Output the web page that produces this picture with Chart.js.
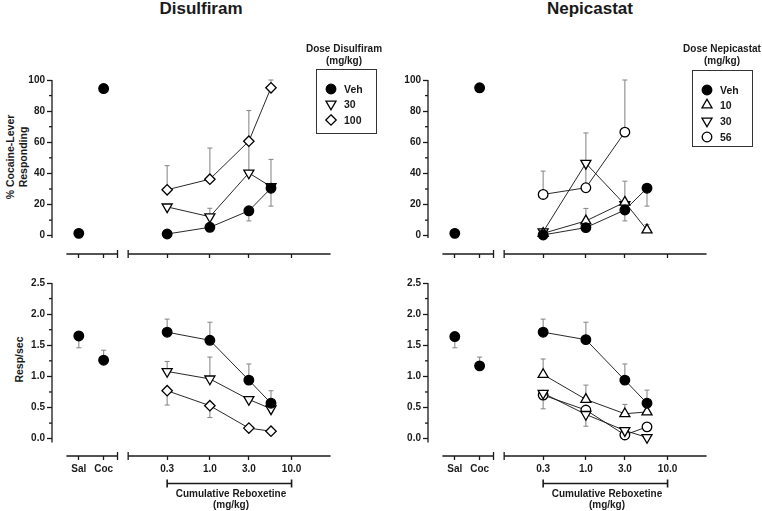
<!DOCTYPE html>
<html>
<head>
<meta charset="utf-8">
<script src="https://cdn.jsdelivr.net/npm/chart.js@4.4.1/dist/chart.umd.min.js"></script>
<style>
  body { margin: 0; width: 762px; height: 511px; position: relative; overflow: hidden; background: #fff;
         font-family: 'Liberation Sans', Arial, sans-serif; font-weight: bold; color: #1a1a1a; }
  canvas { position: absolute; }
  .t { position: absolute; text-align: center; white-space: nowrap; }
  .title { font-size: 17px; line-height: 17px; top: 0; }
  .ytitle { font-size: 10.5px; line-height: 13px; transform: rotate(-90deg); }
  .lg-title { font-size: 10px; line-height: 12px; }
  .lg-box { position: absolute; border: 1px solid #333; box-sizing: border-box; padding-top: 11px; }
  .lg-row { height: 15.6px; display: flex; align-items: center; font-size: 10.5px; }
  .lg-row svg { margin-left: 7px; margin-right: 6px; }
  .brk { font-size: 10px; line-height: 11px; }
</style>
</head>
<body>
<div class="t title" style="left:141px;width:120px">Disulfiram</div>
<div class="t title" style="left:530px;width:120px">Nepicastat</div>
<div class="t ytitle" style="left:-43px;top:144px;width:120px">% Cocaine-Lever<br>Responding</div>
<div class="t ytitle" style="left:-21px;top:353px;width:80px">Resp/sec</div>

<canvas id="dp" width="345" height="206" style="left:0;top:60px"></canvas>
<canvas id="np" width="345" height="206" style="left:376px;top:60px"></canvas>
<canvas id="dr" width="345" height="248" style="left:0;top:263px"></canvas>
<canvas id="nr" width="345" height="248" style="left:376px;top:263px"></canvas>

<div class="t lg-title" style="left:296px;top:43px;width:96px">Dose Disulfiram<br>(mg/kg)</div>
<div class="lg-box" id="lg-dis" style="left:316px;top:69px;width:61px;height:65px"></div>
<div class="t lg-title" style="left:674px;top:43px;width:96px">Dose Nepicastat<br>(mg/kg)</div>
<div class="lg-box" id="lg-nep" style="left:692px;top:70px;width:61px;height:77px"></div>

<div class="t brk" style="left:171px;top:488px;width:120px">Cumulative Reboxetine<br>(mg/kg)</div>
<div class="t brk" style="left:547px;top:488px;width:120px">Cumulative Reboxetine<br>(mg/kg)</div>

<script>
// ---- data ----
const ctlLabels = ['Sal', 'Coc'];
const ctlX = [1, 2];
const doses = [0.3, 1, 3, 5.6];
const doseTicks = [0.3, 1, 3, 10];
const pctTicks = [0, 20, 40, 60, 80, 100];
const rateTicks = [0, 0.5, 1, 1.5, 2, 2.5];
const disLegend = ['Veh', '30', '100'];
const nepLegend = ['Veh', '10', '30', '56'];

// Disulfiram, % cocaine-lever responding
const disPctCtl = [1.5, 94.5];
const disPctVeh = [1.1, 5.4, 16, 30.5];
const disPctVehDn = [null, null, 6.5, 11.5];
const disPct30 = [18.5, 12.2, 40.3, 31.5];
const disPct30Up = [null, 5.4, null, 17.5];
const disPct100 = [29.5, 36.3, 60.7, 95];
const disPct100Up = [15.5, 20, 19.7, 5];
const disPct100Dn = [null, null, 20, null];

// Nepicastat, % cocaine-lever responding
const nepPctCtl = [1.5, 95];
const nepPctVeh = [0.5, 5.2, 16.5, 30.5];
const nepPctVehDn = [null, null, 7, 11.5];
const nepPct10 = [1.5, 9.5, 21.5, 3.7];
const nepPct10Up = [null, 8, 13.5, 3.5];
const nepPct30 = [2.5, 46.5, 20, null];
const nepPct30Up = [null, 19.5, null, null];
const nepPct56 = [26.5, 30.8, 66.5, null];
const nepPct56Up = [15, 16, 33.5, null];

// Disulfiram, resp/sec
const disRateCtl = [1.65, 1.26];
const disRateCtlUp = [null, 0.16];
const disRateCtlDn = [0.19, null];
const disRateVeh = [1.71, 1.58, 0.94, 0.57];
const disRateVehUp = [0.21, 0.29, 0.26, 0.2];
const disRate30 = [1.08, 0.96, 0.63, 0.48];
const disRate30Up = [0.16, 0.35, null, null];
const disRate100 = [0.77, 0.53, 0.17, 0.12];
const disRate100Dn = [0.23, 0.19, null, null];

// Nepicastat, resp/sec
const nepRateCtl = [1.64, 1.17];
const nepRateCtlUp = [null, 0.14];
const nepRateCtlDn = [0.18, null];
const nepRateVeh = [1.71, 1.59, 0.94, 0.57];
const nepRateVehUp = [0.21, 0.28, 0.26, 0.21];
const nepRate10 = [1.03, 0.63, 0.4, 0.43];
const nepRate10Up = [0.25, 0.23, 0.15, null];
const nepRate30 = [0.73, 0.39, 0.13, 0.02];
const nepRate30Dn = [null, 0.19, null, null];
const nepRate56 = [0.7, 0.46, 0.06, 0.19];
const nepRate56Dn = [0.22, null, null, null];

// ---- styling ----
const FONT = "'Liberation Sans', Arial, sans-serif";
const INK = '#1a1a1a', ERR = '#8c8c8c';
const MARK = {
  veh:  { pointStyle: 'circle',   radius: 4.8, fill: '#000', rot: 0 },
  up:   { pointStyle: 'triangle', radius: 5.8, fill: '#fff', rot: 0 },
  down: { pointStyle: 'triangle', radius: 5.8, fill: '#fff', rot: 180 },
  dia:  { pointStyle: 'rectRot',  radius: 5.2, fill: '#fff', rot: 0 },
  open: { pointStyle: 'circle',   radius: 4.8, fill: '#fff', rot: 0 },
};
const ctlSpan = [0.5, 2.56];   // extent of the Sal/Coc axis segment
const doseSpan = [0.1, 30];    // extent of the reboxetine axis segment

function series(xs, ys, m, up, dn, ctl) {
  return {
    data: xs.map((x, i) => ({ x, y: ys[i] })),
    xAxisID: ctl ? 'xc' : 'xl', showLine: !ctl, clip: false,
    borderColor: '#111', borderWidth: 0.9,
    pointStyle: m.pointStyle, pointRadius: m.radius, pointRotation: m.rot,
    pointBackgroundColor: m.fill, pointBorderColor: '#000', pointBorderWidth: 1.3,
    errUp: up || [], errDn: dn || [],
  };
}

const seg = (ctx, x1, y1, x2, y2) => { ctx.beginPath(); ctx.moveTo(x1, y1); ctx.lineTo(x2, y2); ctx.stroke(); };

// prism-style detached axes, minor ticks, bracket and error bars
const prismAxes = {
  id: 'prismAxes',
  beforeDatasetsDraw(chart, args, o) {
    const { ctx, chartArea: a, scales: { y, xc, xl } } = chart;
    ctx.save();
    ctx.strokeStyle = INK; ctx.lineWidth = 1.3;
    seg(ctx, a.left, y.getPixelForValue(y.max), a.left, y.getPixelForValue(o.yFloor));
    const t = y.ticks;
    for (let i = 0; i < t.length - 1; i++) {
      const p = y.getPixelForValue((t[i].value + t[i + 1].value) / 2);
      seg(ctx, a.left - 3, p, a.left, p);
    }
    const b = a.bottom;
    const c0 = xc.getPixelForValue(ctlSpan[0]), c1 = xc.getPixelForValue(ctlSpan[1]);
    seg(ctx, c0, b, c1, b); seg(ctx, c1, b - 4, c1, b + 4);
    const d0 = xl.getPixelForValue(doseSpan[0]), d1 = xl.getPixelForValue(doseSpan[1]);
    seg(ctx, d0, b, d1, b); seg(ctx, d0, b - 4, d0, b + 4);
    if (o.bracket) {
      const by = b + 27.5, k0 = xl.getPixelForValue(doseTicks[0]), k1 = xl.getPixelForValue(doseTicks[doseTicks.length - 1]);
      ctx.lineWidth = 1.6;
      seg(ctx, k0, by, k1, by); seg(ctx, k0, by - 4, k0, by + 4); seg(ctx, k1, by - 4, k1, by + 4);
    }
    ctx.strokeStyle = ERR; ctx.lineWidth = 1.1;
    chart.data.datasets.forEach((ds, di) => {
      chart.getDatasetMeta(di).data.forEach((pt, i) => {
        const v = ds.data[i].y; if (v == null) return;
        [ds.errUp[i], ds.errDn[i] == null ? null : -ds.errDn[i]].forEach((e) => {
          if (e == null) return;
          const p = y.getPixelForValue(v + e);
          seg(ctx, pt.x, pt.y, pt.x, p); seg(ctx, pt.x - 2.5, p, pt.x + 2.5, p);
        });
      });
    });
    ctx.restore();
  },
};

function panel(id, o) {
  const font = { family: FONT, size: 10, weight: 'bold' };
  const grid = (tl) => ({ drawOnChartArea: false, tickLength: tl, tickColor: INK, tickWidth: 1.3 });
  const xH = o.labels ? 25 : 10;
  new Chart(document.getElementById(id), {
    type: 'line',
    data: { datasets: o.datasets },
    options: {
      responsive: false, animation: false, events: [],
      layout: { padding: { left: 12, right: 5, top: 20, bottom: o.labels ? 30 : 2 } },
      plugins: { legend: { display: false }, tooltip: { enabled: false }, prismAxes: { yFloor: o.yFloor, bracket: o.labels } },
      scales: {
        y: { type: 'linear', position: 'left', min: o.yMin, max: o.yMax,
          afterBuildTicks: (s) => { s.ticks = o.yTicks.map((v) => ({ value: v })); },
          afterFit: (s) => { s.width = 40; },
          border: { display: false }, grid: grid(5),
          ticks: { color: INK, font, padding: 2, callback: o.yFmt } },
        xc: { type: 'linear', position: 'bottom', stack: 'x', stackWeight: 71, min: -0.08, max: 2.76,
          afterBuildTicks: (s) => { s.ticks = ctlX.map((v) => ({ value: v })); },
          afterFit: (s) => { s.height = xH; },
          border: { display: false }, grid: grid(4),
          ticks: { display: o.labels, autoSkip: false, maxRotation: 0, color: INK, font, padding: 3,
            callback: (v) => ctlLabels[ctlX.indexOf(v)] } },
        xl: { type: 'logarithmic', position: 'bottom', stack: 'x', stackWeight: 217, min: 0.0852, max: 36.9,
          afterBuildTicks: (s) => { s.ticks = doseTicks.map((v) => ({ value: v })); },
          afterFit: (s) => { s.height = xH; },
          border: { display: false }, grid: grid(4),
          ticks: { display: o.labels, autoSkip: false, maxRotation: 0, color: INK, font, padding: 3,
            callback: (v) => Number(v).toFixed(1) } },
      },
    },
    plugins: [prismAxes],
  });
}

const pctAxis = { yMin: -11.75, yMax: 100, yTicks: pctTicks, yFloor: -1.5, yFmt: (v) => String(v), labels: false };
const rateAxis = { yMin: -0.278, yMax: 2.5, yTicks: rateTicks, yFloor: -0.06, yFmt: (v) => Number(v).toFixed(1), labels: true };

panel('dp', Object.assign({}, pctAxis, { datasets: [
  series(ctlX, disPctCtl, MARK.veh, null, null, true),
  series(doses, disPctVeh, MARK.veh, null, disPctVehDn),
  series(doses, disPct30, MARK.down, disPct30Up, null),
  series(doses, disPct100, MARK.dia, disPct100Up, disPct100Dn),
] }));
panel('np', Object.assign({}, pctAxis, { datasets: [
  series(ctlX, nepPctCtl, MARK.veh, null, null, true),
  series(doses, nepPctVeh, MARK.veh, null, nepPctVehDn),
  series(doses, nepPct10, MARK.up, nepPct10Up, null),
  series(doses, nepPct30, MARK.down, nepPct30Up, null),
  series(doses, nepPct56, MARK.open, nepPct56Up, null),
] }));
panel('dr', Object.assign({}, rateAxis, { datasets: [
  series(ctlX, disRateCtl, MARK.veh, disRateCtlUp, disRateCtlDn, true),
  series(doses, disRateVeh, MARK.veh, disRateVehUp, null),
  series(doses, disRate30, MARK.down, disRate30Up, null),
  series(doses, disRate100, MARK.dia, null, disRate100Dn),
] }));
panel('nr', Object.assign({}, rateAxis, { datasets: [
  series(ctlX, nepRateCtl, MARK.veh, nepRateCtlUp, nepRateCtlDn, true),
  series(doses, nepRateVeh, MARK.veh, nepRateVehUp, null),
  series(doses, nepRate10, MARK.up, nepRate10Up, null),
  series(doses, nepRate30, MARK.down, null, nepRate30Dn),
  series(doses, nepRate56, MARK.open, null, nepRate56Dn),
] }));

// ---- legends (html, markers as small svgs) ----
function markerSvg(m) {
  const r = m.radius, c = 7;
  let shape;
  if (m.pointStyle === 'circle') shape = `<circle cx="${c}" cy="${c}" r="${r}"/>`;
  else if (m.pointStyle === 'rectRot') shape = `<polygon points="${c},${c - r} ${c + r},${c} ${c},${c + r} ${c - r},${c}"/>`;
  else {
    const s = m.rot ? -1 : 1, h = r * 0.866;
    shape = `<polygon points="${c},${c - s * r} ${c + h},${c + s * r / 2} ${c - h},${c + s * r / 2}"/>`;
  }
  return `<svg width="14" height="14"><g fill="${m.fill}" stroke="#000" stroke-width="1.3">${shape}</g></svg>`;
}
function legend(id, labels, marks) {
  document.getElementById(id).innerHTML = labels.map((l, i) =>
    `<div class="lg-row">${markerSvg(marks[i])}<span>${l}</span></div>`).join('');
}
legend('lg-dis', disLegend, [MARK.veh, MARK.down, MARK.dia]);
legend('lg-nep', nepLegend, [MARK.veh, MARK.up, MARK.down, MARK.open]);
</script>
</body>
</html>
